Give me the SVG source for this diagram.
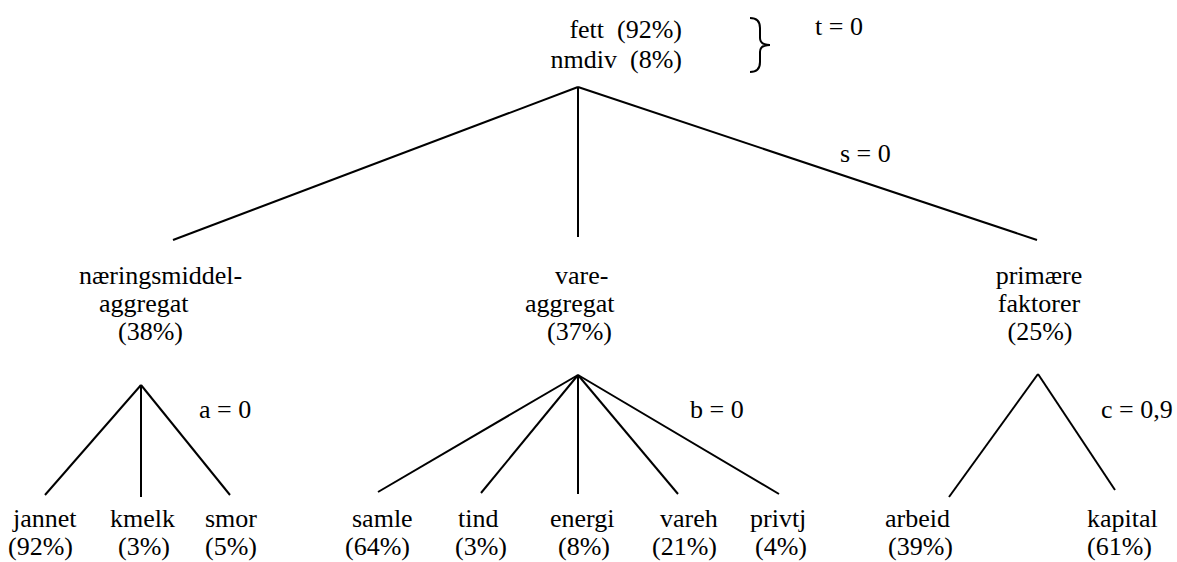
<svg xmlns="http://www.w3.org/2000/svg" width="1177" height="562" viewBox="0 0 1177 562">
<style>
text{font-size:26px;fill:#000;white-space:pre}
.c{text-anchor:middle}
.e{text-anchor:end}
line,path{stroke:#000;stroke-width:2;fill:none}
</style>
<rect width="1177" height="562" fill="#fff"/>
<g id="connectors">
<line x1="578" y1="87" x2="173" y2="240"/>
<line x1="578" y1="87" x2="578" y2="237"/>
<line x1="578" y1="87" x2="1037" y2="240"/>
<line x1="141" y1="385" x2="45" y2="495"/>
<line x1="141" y1="385" x2="141" y2="497"/>
<line x1="141" y1="385" x2="230" y2="495"/>
<line x1="578" y1="375" x2="378" y2="492"/>
<line x1="578" y1="375" x2="481" y2="493"/>
<line x1="578" y1="375" x2="578" y2="494"/>
<line x1="578" y1="375" x2="678" y2="494"/>
<line x1="578" y1="375" x2="779" y2="494"/>
<line x1="1038" y1="374" x2="949" y2="497"/>
<line x1="1038" y1="374" x2="1115" y2="490"/>
</g>
<g id="labels" font-family="'Liberation Serif', 'Times New Roman', Tinos, 'DejaVu Serif', serif">
<g id="root">
<text class="e" x="682" y="38">fett  (92%)</text>
<text class="e" x="682" y="68">nmdiv  (8%)</text>
<path d="M750,18 Q760,18 760,28 L760,38 Q760,45 770,45 Q760,45 760,52 L760,62 Q760,72 750,72"/>
<text x="815" y="35">t = 0</text>
</g>
<text x="840" y="162">s = 0</text>
<g id="naeringsmiddel">
<text x="79" y="284">næringsmiddel-</text>
<text x="99" y="312">aggregat</text>
<text x="118" y="340">(38%)</text>
</g>
<g id="vareaggregat">
<text x="555" y="284">vare-</text>
<text x="525" y="312">aggregat</text>
<text x="547" y="340">(37%)</text>
</g>
<g id="primaere">
<text class="c" x="1039" y="284">primære</text>
<text class="c" x="1039" y="312">faktorer</text>
<text class="c" x="1040" y="340">(25%)</text>
</g>
<text x="199" y="418">a = 0</text>
<text x="690" y="418">b = 0</text>
<text x="1101" y="418">c = 0,9</text>
<g id="jannet"><text x="13" y="527">jannet</text><text x="8" y="555">(92%)</text></g>
<g id="kmelk"><text x="110" y="527">kmelk</text><text x="118" y="555">(3%)</text></g>
<g id="smor"><text x="205" y="527">smor</text><text x="205" y="555">(5%)</text></g>
<g id="samle"><text x="352" y="527">samle</text><text x="345" y="555">(64%)</text></g>
<g id="tind"><text x="458" y="527">tind</text><text x="455" y="555">(3%)</text></g>
<g id="energi"><text x="550" y="527">energi</text><text x="558" y="555">(8%)</text></g>
<g id="vareh"><text x="660" y="527">vareh</text><text x="652" y="555">(21%)</text></g>
<g id="privtj"><text x="750" y="527">privtj</text><text x="755" y="555">(4%)</text></g>
<g id="arbeid"><text x="885" y="527">arbeid</text><text x="888" y="555">(39%)</text></g>
<g id="kapital"><text x="1087" y="527">kapital</text><text x="1087" y="555">(61%)</text></g>
</g>
</svg>
